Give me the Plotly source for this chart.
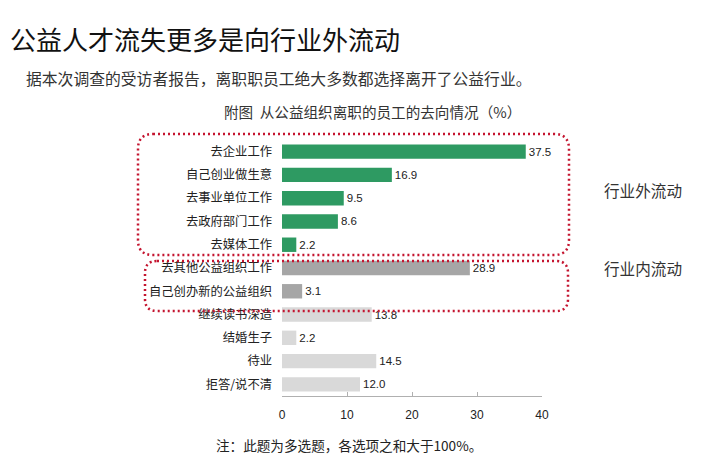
import plotly.graph_objects as go

categories = ["去企业工作", "自己创业做生意", "去事业单位工作", "去政府部门工作", "去媒体工作",
              "去其他公益组织工作", "自己创办新的公益组织",
              "继续读书深造", "结婚生子", "待业", "拒答/说不清"]
values = [37.5, 16.9, 9.5, 8.6, 2.2, 28.9, 3.1, 13.8, 2.2, 14.5, 12.0]
groups = ["out", "out", "out", "out", "out", "in", "in", "other", "other", "other", "other"]
group_colors = {"out": "#2e9a62", "in": "#a6a6a6", "other": "#d9d9d9"}
x_ticks = [0, 10, 20, 30, 40]

W, H = 720, 476
OFF = 8  # page body margin offset
ML, MT = 282 - OFF, 140 - OFF
PW, PH = 260, 256
MR, MB = W - ML - PW, H - MT - PH

def px(x):
    return (x - OFF - ML) / PW

def py(y):
    return (MT + PH - (y - OFF)) / PH

def rounded_rect(x0, y0, x1, y1, r):
    rx = r / PW
    ry = r / PH
    X0, X1 = px(x0), px(x1)
    Y0, Y1 = py(y0), py(y1)
    return (f"M {X0+rx},{Y0} L {X1-rx},{Y0} Q {X1},{Y0} {X1},{Y0-ry} "
            f"L {X1},{Y1+ry} Q {X1},{Y1} {X1-rx},{Y1} "
            f"L {X0+rx},{Y1} Q {X0},{Y1} {X0},{Y1+ry} "
            f"L {X0},{Y0-ry} Q {X0},{Y0} {X0+rx},{Y0} Z")

CJK = "Noto Sans CJK SC"

fig = go.Figure(go.Bar(
    x=values, y=categories, orientation="h",
    marker=dict(color=[group_colors[g] for g in groups], line=dict(width=0)),
    width=0.62,
    text=[f"{v:.1f}" for v in values], textposition="outside",
    textfont=dict(family="Liberation Sans, Arial", size=11.5, color="#222"),
    cliponaxis=False,
))

red = "#c4142f"
fig.update_layout(
    width=W, height=H,
    margin=dict(l=ML, r=MR, t=MT, b=MB, pad=0),
    paper_bgcolor="white", plot_bgcolor="white",
    showlegend=False,
    xaxis=dict(range=[0, 40], tickvals=x_ticks, showgrid=False, zeroline=False,
               showline=True, linecolor="#b0b0b0", linewidth=1,
               ticks="inside", ticklen=4, tickcolor="#b0b0b0",
               tickfont=dict(family="Liberation Sans, Arial", size=12, color="#222"),
               ticklabelstandoff=8),
    yaxis=dict(autorange="reversed", showgrid=False, zeroline=False, showline=False,
               ticks="", tickfont=dict(family=CJK, size=12.3, color="#222"),
               ticklabelstandoff=9),
    shapes=[
        dict(type="path", xref="paper", yref="paper", path=rounded_rect(138, 134, 569, 255, 15),
             line=dict(color=red, width=2.5, dash="2px,3px")),
        dict(type="path", xref="paper", yref="paper", path=rounded_rect(145, 261, 568, 311, 12),
             line=dict(color=red, width=2.5, dash="2px,3px")),
    ],
    annotations=[
        dict(text="公益人才流失更多是向行业外流动", xref="paper", yref="paper",
             x=px(8), y=py(38), xanchor="left", yanchor="middle", showarrow=False,
             font=dict(family=CJK, size=26, color="#111")),
        dict(text="据本次调查的受访者报告，离职职员工绝大多数都选择离开了公益行业。", xref="paper", yref="paper",
             x=px(24), y=py(78), xanchor="left", yanchor="middle", showarrow=False,
             font=dict(family=CJK, size=15.8, color="#333")),
        dict(text="附图  从公益组织离职的员工的去向情况（%）", xref="paper", yref="paper",
             x=px(372), y=py(111), xanchor="center", yanchor="middle", showarrow=False,
             font=dict(family=CJK, size=14.6, color="#333")),
        dict(text="行业外流动", xref="paper", yref="paper",
             x=px(643), y=py(190), xanchor="center", yanchor="middle", showarrow=False,
             font=dict(family=CJK, size=15.6, color="#333")),
        dict(text="行业内流动", xref="paper", yref="paper",
             x=px(643), y=py(268), xanchor="center", yanchor="middle", showarrow=False,
             font=dict(family=CJK, size=15.6, color="#333")),
        dict(text="注：此题为多选题，各选项之和大于100%。", xref="paper", yref="paper",
             x=px(349), y=py(445), xanchor="center", yanchor="middle", showarrow=False,
             font=dict(family=CJK, size=13.6, color="#222")),
    ],
)

fig.write_html("out.html")
